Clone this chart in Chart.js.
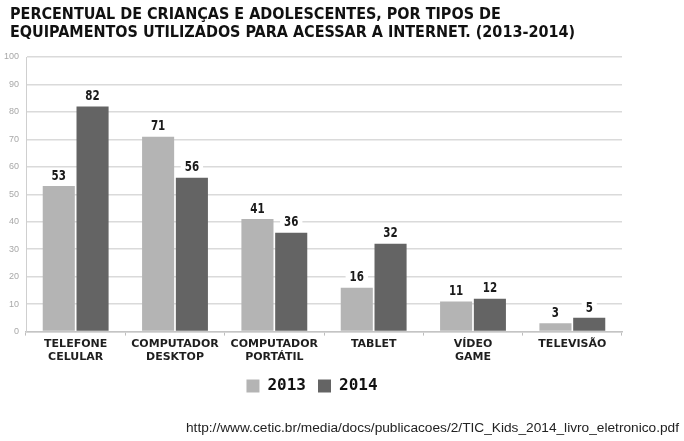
<!DOCTYPE html>
<html>
<head>
<meta charset="utf-8">
<script src="https://cdn.jsdelivr.net/npm/chart.js@4/dist/chart.umd.min.js"></script>
<style>
	body { margin: 0; background: #fff; }
	#wrap { position: relative; width: 684px; height: 441px; overflow: hidden; }
	#chart { position: absolute; left: 0; top: 0; }
	.titulo
	{
		position: absolute; left: 10px; top: 5px;
		font: bold 16px "DejaVu Sans Condensed", "DejaVu Sans", sans-serif;
		line-height: 18px; color: #111; white-space: nowrap;
	}
	.fonte
	{
		position: absolute; right: 5px; top: 420px;
		font: 13.7px "Liberation Sans", Arial, sans-serif;
		color: #222; white-space: nowrap;
	}
</style>
</head>
<body>
<div id="wrap">
	<canvas id="chart" width="684" height="441"></canvas>
	<div class="titulo">PERCENTUAL DE CRIANÇAS E ADOLESCENTES, POR TIPOS DE<br>EQUIPAMENTOS UTILIZADOS PARA ACESSAR A INTERNET. (2013-2014)</div>
	<div class="fonte">http://www.cetic.br/media/docs/publicacoes/2/TIC_Kids_2014_livro_eletronico.pdf</div>
</div>
<script>
var categorias = [
	['TELEFONE', 'CELULAR']
,	['COMPUTADOR', 'DESKTOP']
,	['COMPUTADOR', 'PORTÁTIL']
,	['TABLET']
,	['VÍDEO', 'GAME']
,	['TELEVISÃO']
];
var anos = ['2013', '2014'];
var valores2013 = [53, 71, 41, 16, 11, 3];
var valores2014 = [82, 56, 36, 32, 12, 5];
var ticksY = [0, 10, 20, 30, 40, 50, 60, 70, 80, 90, 100];

// rotulos de valor com fundo branco por cima das barras
var rotulos = {
	id: 'rotulos'
,	afterDatasetsDraw: function(chart)
	{
		var ctx = chart.ctx;
		chart.data.datasets.forEach(function(ds, i)
		{
			chart.getDatasetMeta(i).data.forEach(function(bar, j)
			{
				var txt = String(ds.data[j]);
				var y = bar.y - 10;
				ctx.save();
				ctx.font = "bold 14px 'DejaVu Sans Condensed', sans-serif";
				ctx.textAlign = 'center';
				ctx.textBaseline = 'middle';
				var w = ctx.measureText(txt).width * 0.82;
				ctx.fillStyle = '#fff';
				ctx.fillRect(bar.x - w / 2 - 4, y - 8, w + 8, 16);
				// letra estreita, tipo Arial Narrow
				ctx.translate(bar.x, y);
				ctx.scale(0.82, 1);
				ctx.fillStyle = '#1a1a1a';
				ctx.fillText(txt, 0, 0);
				ctx.restore();
			});
		});
	}
};

new Chart(
	document.getElementById('chart')
,	{
		type: 'bar'
	,	data:
		{
			labels: categorias
		,	datasets:
			[
				{
					label: anos[0]
				,	data: valores2013
				,	backgroundColor: '#b4b4b4'
				,	categoryPercentage: 0.68
				,	barPercentage: 0.95
				}
			,	{
					label: anos[1]
				,	data: valores2014
				,	backgroundColor: '#646464'
				,	categoryPercentage: 0.68
				,	barPercentage: 0.95
				}
			]
		}
	,	options:
		{
			responsive: false
		,	animation: false
		,	layout: { padding: { left: 2, right: 62, top: 57, bottom: 37 } }
		,	plugins:
			{
				tooltip: { enabled: false }
			,	legend:
				{
					position: 'bottom'
				,	labels:
					{
						boxWidth: 13
					,	boxHeight: 13
					,	padding: 12
					,	color: '#111'
					,	font: { family: "'DejaVu Sans Mono', monospace", size: 16, weight: 'bold' }
					}
				}
			}
		,	scales:
			{
				x:
				{
					grid: { drawOnChartArea: false, drawTicks: true, tickLength: 4, color: '#bdbdbd', offset: true }
				,	border: { color: '#c4c4c4', width: 1.5 }
				,	ticks:
					{
						color: '#1e1e1e'
					,	padding: 2
					,	maxRotation: 0
					,	autoSkip: false
					,	font: { family: "'DejaVu Sans', sans-serif", size: 11, weight: 'bold', lineHeight: 1.2 }
					}
				}
			,	y:
				{
					min: 0
				,	max: 100
				,	afterBuildTicks: function(axis) { axis.ticks = ticksY.map(function(v) { return { value: v }; }); }
				,	afterFit: function(axis) { axis.width = 24; }
				,	grid: { color: '#dadada', lineWidth: 1.5, drawTicks: false }
				,	border: { color: '#cfcfcf', width: 1 }
				,	ticks:
					{
						color: '#a8a8a8'
					,	padding: 7
					,	font: { family: "'Liberation Sans', sans-serif", size: 9 }
					}
				}
			}
		}
	,	plugins: [rotulos]
	}
);
</script>
</body>
</html>
